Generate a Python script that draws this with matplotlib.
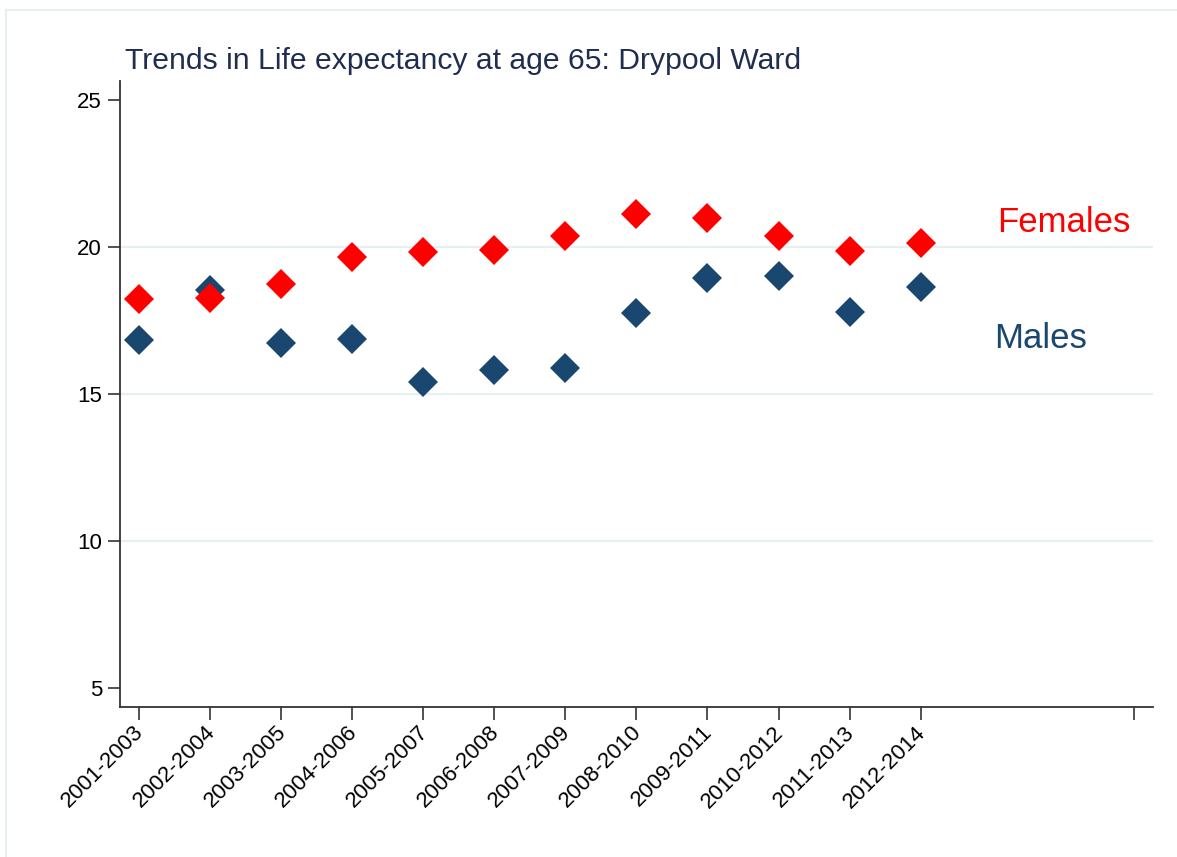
import matplotlib
matplotlib.use("Agg")
import matplotlib.pyplot as plt
from matplotlib.patches import Rectangle

periods = ["2001-2003", "2002-2004", "2003-2005", "2004-2006", "2005-2007",
           "2006-2008", "2007-2009", "2008-2010", "2009-2011", "2010-2012",
           "2011-2013", "2012-2014"]
females = [18.23, 18.27, 18.74, 19.66, 19.83, 19.90, 20.37, 21.12, 20.99, 20.37, 19.86, 20.14]
males = [16.84, 18.54, 16.73, 16.87, 15.41, 15.82, 15.88, 17.76, 18.95, 19.01, 17.79, 18.64]
yticks = [5, 10, 15, 20, 25]
title = "Trends in Life expectancy at age 65: Drypool Ward"

plt.rcParams['font.family'] = ['Liberation Sans', 'DejaVu Sans']

W, H = 1177, 857
fig = plt.figure(figsize=(W / 100, H / 100), dpi=100)
fig.patch.set_facecolor("white")
# outer light frame
fig.patches.append(Rectangle((6 / W, -0.05), 1.2, 1 - 10 / H + 0.05, transform=fig.transFigure,
                             fill=False, edgecolor="#e8eff1", linewidth=1.5, zorder=0))

ax = fig.add_axes([120 / W, 1 - 706.7 / H, (1153 - 120) / W, (706.7 - 81) / H])
x = list(range(len(periods)))
male_col = "#1a476f"
fem_col = "#ff0000"

for g in [10, 15, 20]:
    ax.axhline(g, color="#e6eff1", linewidth=1.6, zorder=0)

ax.plot(x, males, linestyle="none", marker="D", markersize=15, color=male_col,
        markeredgewidth=0, zorder=3)
ax.plot(x, females, linestyle="none", marker="D", markersize=15, color=fem_col,
        markeredgewidth=0, zorder=4)

ax.text(13.01, 20.52, "Females", color=fem_col, fontsize=25, ha="center", va="baseline")
ax.text(12.69, 16.56, "Males", color=male_col, fontsize=25, ha="center", va="baseline")

ax.set_xlim(-0.267, 14.27)
ax.set_ylim(4.36, 25.65)
ax.set_xticks(x + [14])
ax.set_xticklabels(periods + [""], rotation=45, ha="right", va="center_baseline",
                   rotation_mode="anchor", fontsize=16)
ax.set_yticks(yticks)
ax.set_yticklabels([str(v) for v in yticks], fontsize=16)
ax.tick_params(axis="both", direction="out", length=9, width=1.2, color="#333333", pad=4)
ax.tick_params(axis="x", pad=6)
for s in ["top", "right"]:
    ax.spines[s].set_visible(False)
for s in ["left", "bottom"]:
    ax.spines[s].set_color("#333333")
    ax.spines[s].set_linewidth(1.3)

fig.text(125 / W, 1 - 69 / H, title, fontsize=21.7, color="#1f2d4f", ha="left", va="baseline")

fig.savefig("out.png", dpi=100)
